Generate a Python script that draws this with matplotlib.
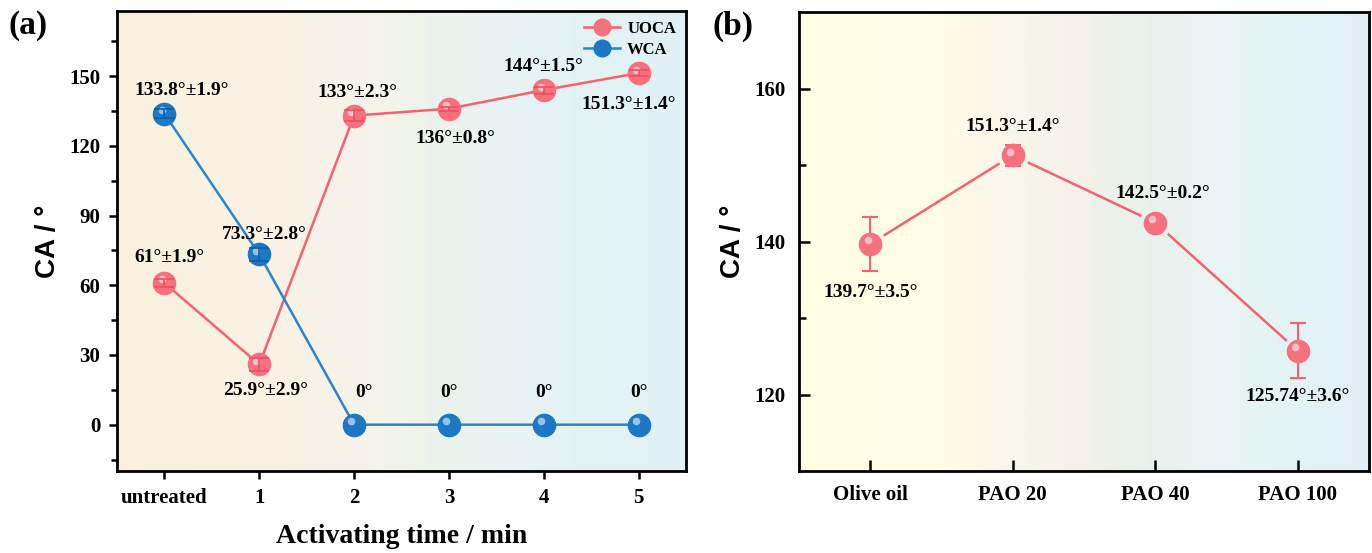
import matplotlib
matplotlib.use("Agg")
import matplotlib.pyplot as plt
import numpy as np
from matplotlib.colors import LinearSegmentedColormap
from matplotlib import transforms
from matplotlib.ticker import MultipleLocator

# ---------------- data ----------------
time_labels = ["untreated", "1", "2", "3", "4", "5"]
uoca = [61, 25.9, 133, 136, 144, 151.3]
uoca_err = [1.9, 2.9, 2.3, 0.8, 1.5, 1.4]
wca = [133.8, 73.3, 0, 0, 0, 0]
wca_err = [1.9, 2.8, 0, 0, 0, 0]
uoca_text = ["61°±1.9°", "25.9°±2.9°", "133°±2.3°", "136°±0.8°", "144°±1.5°", "151.3°±1.4°"]
wca_text = ["133.8°±1.9°", "73.3°±2.8°", "0°", "0°", "0°", "0°"]

oil_labels = ["Olive oil", "PAO 20", "PAO 40", "PAO 100"]
oil_ca = [139.7, 151.3, 142.5, 125.74]
oil_err = [3.5, 1.4, 0.2, 3.6]
oil_text = ["139.7°±3.5°", "151.3°±1.4°", "142.5°±0.2°", "125.74°±3.6°"]

# ---------------- style ----------------
SERIF = ["Liberation Serif", "DejaVu Serif"]
SANS = ["Liberation Sans", "DejaVu Sans"]
PINK = "#f7707e"
PINK_LINE = "#f5616f"
PINK_ERR = "#ee4f5f"
BLUE = "#1c78c4"
BLUE_LINE = "#2a86cc"
BLUE_ERR = "#0d5fa3"

fig = plt.figure(figsize=(13.72, 5.53), dpi=100)
axa = fig.add_axes([0.0853, 0.148, 0.4147, 0.832])
axb = fig.add_axes([0.5824, 0.148, 0.4154, 0.830])


def gradient(ax, stops, xlim, ylim):
    cmap = LinearSegmentedColormap.from_list("bg", stops)
    g = np.linspace(0, 1, 512).reshape(1, -1)
    ax.imshow(g, cmap=cmap, aspect="auto", extent=(xlim[0], xlim[1], ylim[0], ylim[1]),
              zorder=0, interpolation="bilinear")
    return cmap


def sphere(ax, x, y, color, zorder):
    ax.plot(x, y, "o", ms=16, color=color, mec=color, zorder=zorder)
    hl = transforms.offset_copy(ax.transData, fig=fig, x=-2.0, y=2.5, units="points")
    ax.plot(x, y, "o", ms=5.5, color="white", alpha=0.55, mec="none", zorder=zorder + 0.1,
            transform=hl)


# ---------------- panel (a) ----------------
xa = np.arange(len(time_labels))
xlim_a = (-0.5, 5.5)
ylim_a = (-20, 178)
gradient(axa, [(0.0, "#faf1de"), (0.30, "#f9f2e5"), (0.42, "#f6f3ea"), (0.48, "#f3f5e9"),
               (0.58, "#eaf2ec"), (0.68, "#e9f2f3"), (0.80, "#e3f3f3"), (1.0, "#e1f0f5")],
         xlim_a, ylim_a)

axa.plot(xa, uoca, "-", color=PINK_LINE, lw=1.8, zorder=2)
axa.plot(xa, wca, "-", color=BLUE_LINE, lw=1.8, zorder=2)
sphere(axa, xa, uoca, PINK, 3)
sphere(axa, xa, wca, BLUE, 3)
axa.errorbar(xa, uoca, yerr=uoca_err, fmt="none", ecolor=PINK_ERR, elinewidth=1.2,
             capsize=7, capthick=1.2, zorder=4)
axa.errorbar(xa[:2], wca[:2], yerr=wca_err[:2], fmt="none", ecolor=BLUE_ERR, elinewidth=1.2,
             capsize=7, capthick=1.2, zorder=4)

# legend proxies
lh1, = axa.plot([], [], "-o", color=PINK_LINE, mfc=PINK, mec=PINK, ms=12, lw=1.8)
lh2, = axa.plot([], [], "-o", color=BLUE_LINE, mfc=BLUE, mec=BLUE, ms=12, lw=1.8)
axa.legend([lh1, lh2], ["UOCA", "WCA"], loc="upper right", frameon=False,
           prop={"family": SERIF, "weight": "bold", "size": 12}, handlelength=2.2,
           borderaxespad=0.2, labelspacing=0.3, handletextpad=0.4)

tkw = dict(ha="center", va="center", fontsize=14, fontweight="bold", family=SERIF, zorder=5)
uoca_pos = [(0.05, 72), (1.07, 14.6), (2.04, 143), (3.07, 123), (4.0, 154), (4.9, 138)]
wca_pos = [(0.18, 144), (1.05, 82), (2.1, 14), (3.0, 14), (4.0, 14), (5.0, 14)]
for (px, py), t in zip(uoca_pos, uoca_text):
    axa.text(px, py, t, **tkw)
for (px, py), t in zip(wca_pos, wca_text):
    axa.text(px, py, t, **tkw)

axa.set_xlim(*xlim_a)
axa.set_ylim(*ylim_a)
axa.set_xticks(xa)
axa.set_xticklabels(time_labels)
axa.yaxis.set_major_locator(MultipleLocator(30))
axa.set_yticks(np.arange(-15, 170, 15), minor=True)
axa.set_yticks(np.arange(0, 151, 30))
axa.tick_params(axis="both", direction="out", width=1.8, length=6, pad=6)
axa.tick_params(axis="y", which="minor", direction="out", width=1.8, length=4)
axa.set_xlabel("Activating time / min", fontsize=20, fontweight="bold", family=SERIF, labelpad=12)
axa.set_ylabel("CA / °", fontsize=20, fontweight="bold", family=SANS, labelpad=6)

# ---------------- panel (b) ----------------
xb = np.arange(len(oil_labels))
xlim_b = (-0.5, 3.5)
ylim_b = (110, 170)
cmap_b = gradient(axb, [(0.0, "#fffde2"), (0.24, "#fffde4"), (0.30, "#fef8e8"), (0.40, "#f6f6ea"),
                        (0.48, "#f6f2ea"), (0.56, "#ecf0ea"), (0.64, "#e9f1ee"), (0.72, "#ebf3f5"),
                        (0.80, "#e4f5f3"), (1.0, "#e2f0f6")],
                  xlim_b, ylim_b)

axb.plot(xb, oil_ca, "-", color=PINK_LINE, lw=1.8, zorder=2)
# gap between line and symbols (background-coloured halo)
for xi, yi in zip(xb, oil_ca):
    axb.plot([xi], [yi], "o", ms=23, mec="none",
             color=cmap_b((xi - xlim_b[0]) / (xlim_b[1] - xlim_b[0])), zorder=2.2)
axb.errorbar(xb, oil_ca, yerr=oil_err, fmt="none", ecolor=PINK_LINE, elinewidth=1.5,
             capsize=6, capthick=1.5, zorder=2.5)
sphere(axb, xb, oil_ca, PINK, 3)

oil_pos = [(0.0, 133.3), (1.0, 155.0), (2.05, 146.3), (3.0, 119.7)]
for (px, py), t in zip(oil_pos, oil_text):
    axb.text(px, py, t, **tkw)

axb.set_xlim(*xlim_b)
axb.set_ylim(*ylim_b)
axb.set_xticks(xb)
axb.set_xticklabels(oil_labels)
axb.set_yticks([120, 140, 160])
axb.set_yticks([130, 150], minor=True)
axb.tick_params(axis="both", direction="in", width=1.8, length=8, pad=10)
axb.tick_params(axis="y", which="minor", direction="in", width=1.8, length=5)
axb.set_ylabel("CA / °", fontsize=20, fontweight="bold", family=SANS, labelpad=6)

for ax in (axa, axb):
    for s in ax.spines.values():
        s.set_linewidth(2.0)
        s.set_zorder(6)
    for lab in ax.get_xticklabels() + ax.get_yticklabels():
        lab.set_family(SERIF)
        lab.set_fontweight("bold")
        lab.set_fontsize(15)

fig.text(0.006, 0.953, "(a)", fontsize=24, fontweight="bold", family=SERIF, ha="left", va="center")
fig.text(0.519, 0.953, "(b)", fontsize=24, fontweight="bold", family=SERIF, ha="left", va="center")

fig.savefig("out.png", dpi=100)
